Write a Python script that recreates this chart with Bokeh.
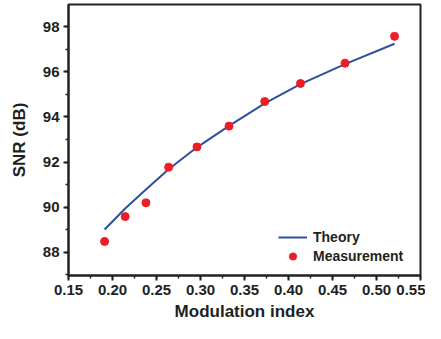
from bokeh.plotting import figure
from bokeh.models import Range1d, SingleIntervalTicker, NumeralTickFormatter, Legend, LegendItem
from bokeh.embed import file_html
from bokeh.resources import INLINE

# Data
meas_x = [0.191, 0.2144, 0.238, 0.2638, 0.296, 0.3324, 0.373, 0.4136, 0.4642, 0.5205]
meas_y = [88.48, 89.58, 90.19, 91.77, 92.67, 93.59, 94.68, 95.48, 96.38, 97.57]
theory_x = [0.191, 0.2144, 0.238, 0.2638, 0.296, 0.3324, 0.373, 0.4136, 0.4642, 0.5205]
theory_y = [89.01, 89.94, 90.78, 91.68, 92.65, 93.60, 94.60, 95.45, 96.34, 97.24]

FONT = "Liberation Sans"
TXT = "#231f20"

p = figure(width=425, height=323, output_backend="svg", toolbar_location=None,
           x_range=Range1d(0.15, 0.55), y_range=Range1d(86.97, 98.98),
           min_border_left=68, min_border_right=5, min_border_top=4, min_border_bottom=0)
p.grid.visible = False
p.outline_line_color = "#222222"
p.outline_line_width = 2
p.background_fill_color = "white"
p.border_fill_color = "white"

p.xaxis.ticker = SingleIntervalTicker(interval=0.05, num_minor_ticks=2)
p.yaxis.ticker = SingleIntervalTicker(interval=2, num_minor_ticks=2)
p.xaxis.formatter = NumeralTickFormatter(format="0.00")
p.xaxis.axis_label = "Modulation index"
p.yaxis.axis_label = "SNR (dB)"

for ax in (p.xaxis[0], p.yaxis[0]):
    ax.axis_line_width = 2
    ax.axis_line_color = "#222222"
    ax.major_tick_in = 0
    ax.major_tick_out = 5
    ax.minor_tick_in = 0
    ax.minor_tick_out = 3
    ax.major_tick_line_width = 2
    ax.minor_tick_line_width = 1.5
    ax.major_tick_line_color = "#222222"
    ax.minor_tick_line_color = "#222222"
    ax.major_label_text_font = FONT
    ax.major_label_text_font_style = "bold"
    ax.major_label_text_font_size = "15px"
    ax.major_label_text_color = TXT
    ax.major_label_standoff = 4
    ax.axis_label_text_font = FONT
    ax.axis_label_text_font_style = "bold"
    ax.axis_label_text_font_size = "17px"
    ax.axis_label_text_color = TXT
p.yaxis[0].axis_label_standoff = 11
p.xaxis[0].axis_label_standoff = 4

r_line = p.line(theory_x, theory_y, line_color="#2e4f9e", line_width=2)
r_pts = p.scatter(meas_x, meas_y, size=8, fill_color="#ee1c25", line_color="#ee1c25")

legend = Legend(items=[LegendItem(label="Theory", renderers=[r_line]),
                       LegendItem(label="Measurement", renderers=[r_pts])],
                location=(210, 10), padding=0, margin=0, spacing=1,
                glyph_width=29, glyph_height=18, label_height=18, label_standoff=6,
                border_line_alpha=0, background_fill_alpha=0,
                label_text_font=FONT, label_text_font_style="bold",
                label_text_font_size="14px", label_text_color=TXT)
p.add_layout(legend)

open("out.html", "w").write(file_html(p, INLINE))
